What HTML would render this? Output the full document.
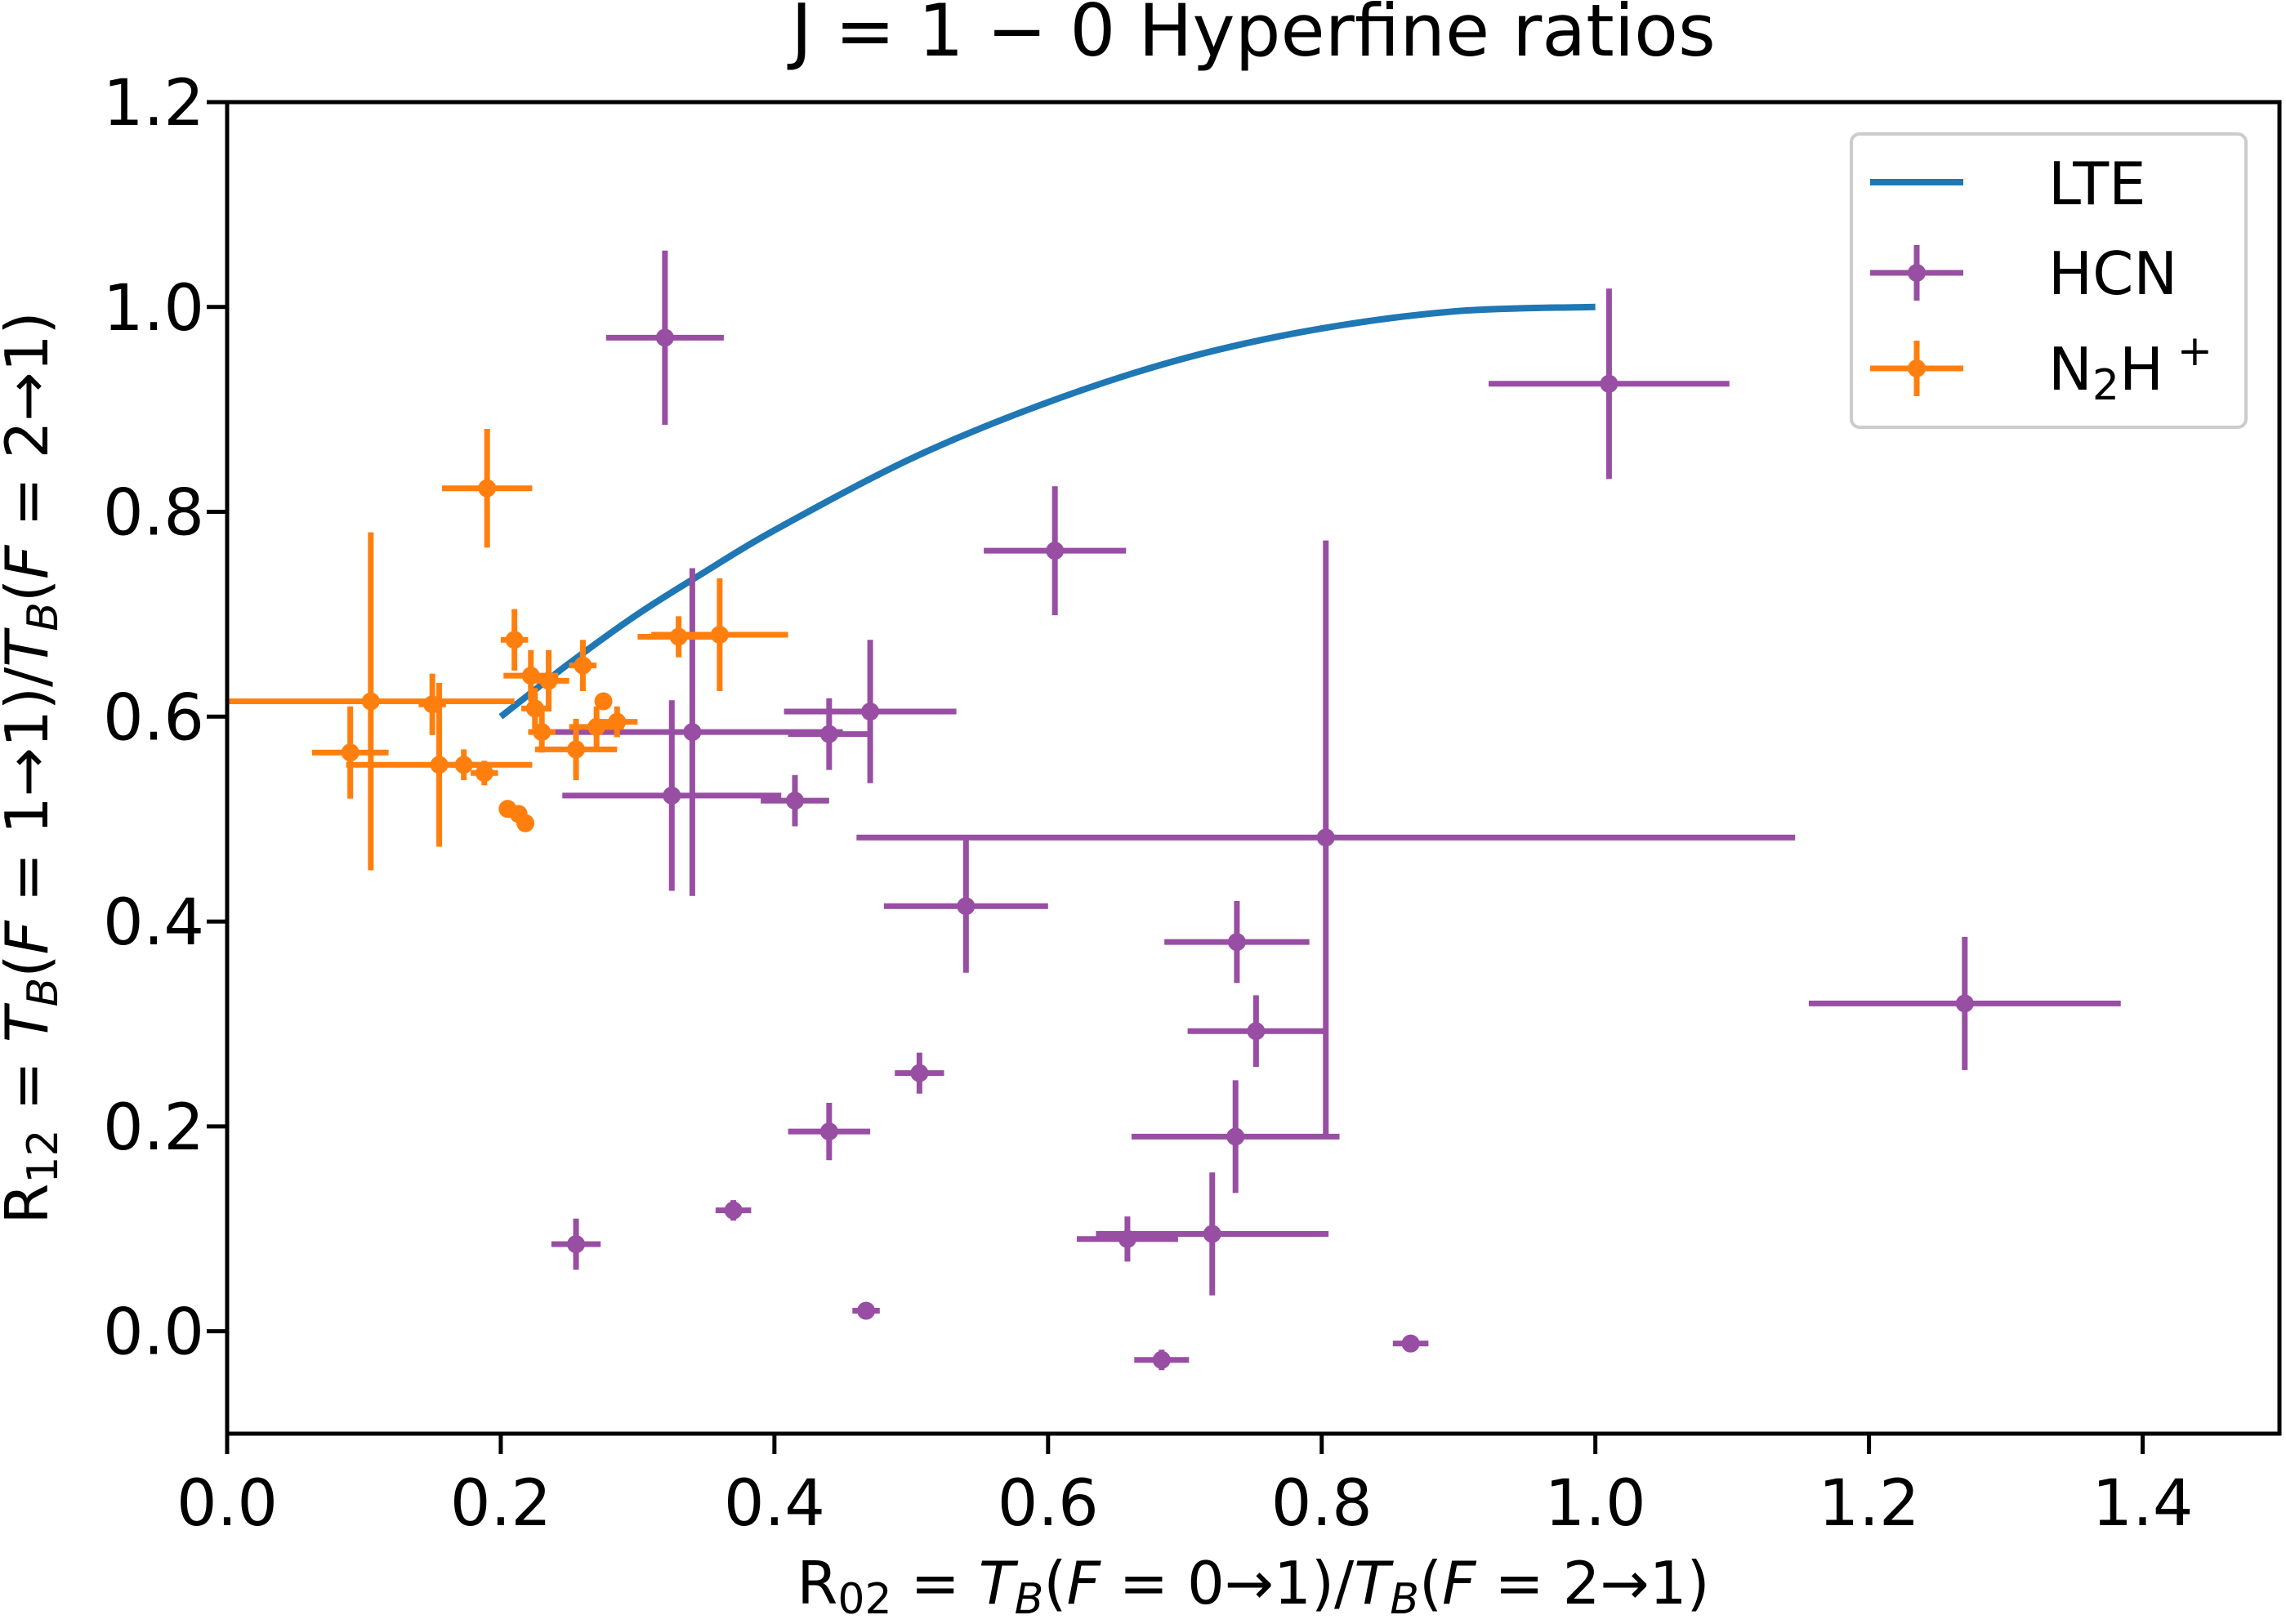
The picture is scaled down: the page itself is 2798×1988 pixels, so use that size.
<!DOCTYPE html>
<html><head><meta charset="utf-8"><style>
html,body{margin:0;padding:0;background:#fff;}
svg{display:block;font-family:"DejaVu Sans","Liberation Sans",sans-serif;}
</style></head><body>
<svg id="chart" width="2798" height="1988" viewBox="0 0 2798 1988" xmlns="http://www.w3.org/2000/svg">
<rect width="2798" height="1988" fill="#fff"/>
<text x="1534" y="68" font-size="88" text-anchor="middle">J = 1 − 0 Hyperfine ratios</text>
<g id="marks"></g>
<rect x="278" y="125" width="2512" height="1630" fill="none" stroke="#000" stroke-width="5"/>
<g id="ticks"></g>
<text x="1534" y="1963" font-size="72" text-anchor="middle">R<tspan font-size="52" dy="12">02</tspan><tspan dy="-12"> = </tspan><tspan font-style="italic">T</tspan><tspan font-size="52" dy="12" font-style="italic">B</tspan><tspan dy="-12">(</tspan><tspan font-style="italic">F</tspan> = 0→1)/<tspan font-style="italic">T</tspan><tspan font-size="52" dy="12" font-style="italic">B</tspan><tspan dy="-12">(</tspan><tspan font-style="italic">F</tspan> = 2→1)</text>
<text transform="translate(58,940) rotate(-90)" font-size="72" text-anchor="middle">R<tspan font-size="52" dy="12">12</tspan><tspan dy="-12"> = </tspan><tspan font-style="italic">T</tspan><tspan font-size="52" dy="12" font-style="italic">B</tspan><tspan dy="-12">(</tspan><tspan font-style="italic">F</tspan> = 1→1)/<tspan font-style="italic">T</tspan><tspan font-size="52" dy="12" font-style="italic">B</tspan><tspan dy="-12">(</tspan><tspan font-style="italic">F</tspan> = 2→1)</text>
<g>
<rect x="2266" y="164" width="483" height="359" rx="10" fill="#fff" stroke="#ccc" stroke-width="4"/>
<g><line x1="2289" y1="223" x2="2403" y2="223" stroke="#1f77b4" stroke-width="8"/><text x="2507" y="250" font-size="72">LTE</text></g>
<g><line x1="2289" y1="334" x2="2403" y2="334" stroke="#984ea3" stroke-width="7"/><line x1="2346" y1="300" x2="2346" y2="368" stroke="#984ea3" stroke-width="7"/><circle cx="2346" cy="334" r="11" fill="#984ea3"/><text x="2507" y="360" font-size="72">HCN</text></g>
<g><line x1="2289" y1="451" x2="2403" y2="451" stroke="#ff7f0e" stroke-width="7"/><line x1="2346" y1="417" x2="2346" y2="485" stroke="#ff7f0e" stroke-width="7"/><circle cx="2346" cy="451" r="11" fill="#ff7f0e"/><text x="2507" y="477" font-size="72">N<tspan font-size="52" dy="12">2</tspan><tspan dy="-12">H</tspan><tspan font-size="52" dy="-30"> +</tspan></text></g>
</g>
</svg>
<script>
const xTicks=[0,0.2,0.4,0.6,0.8,1.0,1.2,1.4];
const xTickLabels=["0.0","0.2","0.4","0.6","0.8","1.0","1.2","1.4"];
const yTicks=[0,0.2,0.4,0.6,0.8,1.0,1.2];
const yTickLabels=["0.0","0.2","0.4","0.6","0.8","1.0","1.2"];
const lteX=[0.2,0.25,0.3,0.35,0.4,0.5,0.6,0.7,0.8,0.9,1.0];
const lteY=[0.6,0.652,0.70,0.742,0.782,0.852,0.907,0.950,0.979,0.996,1.0];
const hcnX=[0.32,1.01,0.605,0.47,0.44,0.34,0.325,0.415,0.803,0.54,0.738,0.752,0.737,1.27,0.506,0.44,0.37,0.255,0.658,0.72,0.467,0.683,0.865];
const hcnY=[0.97,0.925,0.762,0.605,0.583,0.585,0.523,0.518,0.482,0.415,0.38,0.293,0.19,0.32,0.252,0.195,0.118,0.085,0.09,0.095,0.02,-0.028,-0.012];
const hcnXErr=[0.043,0.088,0.052,0.063,0.03,0.11,0.08,0.025,0.343,0.06,0.053,0.05,0.076,0.114,0.018,0.03,0.013,0.018,0.037,0.085,0.01,0.02,0.013];
const hcnYErr=[0.085,0.093,0.063,0.07,0.035,0.16,0.093,0.025,0.29,0.065,0.04,0.035,0.055,0.065,0.02,0.028,0.01,0.025,0.022,0.06,0.005,0.01,0.005];
const n2hX=[0.19,0.105,0.09,0.155,0.15,0.173,0.188,0.21,0.205,0.213,0.218,0.222,0.225,0.23,0.235,0.26,0.255,0.27,0.275,0.285,0.33,0.36];
const n2hY=[0.823,0.615,0.565,0.553,0.612,0.553,0.545,0.675,0.51,0.505,0.496,0.64,0.608,0.585,0.635,0.65,0.568,0.59,0.615,0.595,0.678,0.68];
const n2hXErr=[0.033,0.105,0.028,0.068,0.01,0.01,0.01,0.01,0.005,0.004,0,0.02,0.01,0.01,0.015,0.01,0.03,0.02,0.003,0.015,0.03,0.05];
const n2hYErr=[0.058,0.165,0.045,0.08,0.03,0.015,0.012,0.03,0.008,0.005,0,0.025,0.02,0.02,0.03,0.025,0.03,0.02,0.005,0.015,0.02,0.055];

const X0=278,X1=2790,Y0=125,Y1=1755,xmin=0,xmax=1.5,ymin=-0.1,ymax=1.2;
function sx(v){return X0+(v-xmin)/(xmax-xmin)*(X1-X0);}
function sy(v){return Y1-(v-ymin)/(ymax-ymin)*(Y1-Y0);}
const NS="http://www.w3.org/2000/svg";
function mk(tag,attrs,parent){const e=document.createElementNS(NS,tag);for(const k in attrs)e.setAttribute(k,attrs[k]);parent.appendChild(e);return e;}
const ticks=document.getElementById('ticks');
xTicks.forEach((t,i)=>{
  const l=mk('line',{x1:sx(t),x2:sx(t),y1:Y1,y2:Y1+25,stroke:'#000','stroke-width':5},ticks);
  
  
  const tx=mk('text',{x:sx(t),y:1867,'font-size':78,'text-anchor':'middle'},ticks);
  tx.textContent=xTickLabels[i];
  
  
});
yTicks.forEach((t,i)=>{
  const l=mk('line',{x1:X0-25,x2:X0,y1:sy(t),y2:sy(t),stroke:'#000','stroke-width':5},ticks);
  
  
  const tx=mk('text',{x:250,y:sy(t)+28,'font-size':78,'text-anchor':'end'},ticks);
  tx.textContent=yTickLabels[i];
  
  
});
const marks=document.getElementById('marks');
function series(xs,ys,xe,ye,color,name){
  const g=mk('g',{},marks);
  
  
  xs.forEach((x,i)=>{
    const p=mk('g',{},g);
    
    
    if(xe[i]>0) mk('line',{x1:sx(x-xe[i]),x2:sx(x+xe[i]),y1:sy(ys[i]),y2:sy(ys[i]),stroke:color,'stroke-width':7},p);
    if(ye[i]>0) mk('line',{x1:sx(x),x2:sx(x),y1:sy(ys[i]-ye[i]),y2:sy(ys[i]+ye[i]),stroke:color,'stroke-width':7},p);
    mk('circle',{cx:sx(x),cy:sy(ys[i]),r:11,fill:color},p);
  });
}
// smooth LTE curve (Catmull-Rom through read points)
const P=lteX.map((x,i)=>[sx(x),sy(lteY[i])]);
let d='M'+P[0][0]+','+P[0][1];
for(let i=0;i<P.length-1;i++){
  const p0=P[Math.max(0,i-1)],p1=P[i],p2=P[i+1],p3=P[Math.min(P.length-1,i+2)];
  const c1=[p1[0]+(p2[0]-p0[0])/6,p1[1]+(p2[1]-p0[1])/6];
  const c2=[p2[0]-(p3[0]-p1[0])/6,p2[1]-(p3[1]-p1[1])/6];
  d+=' C'+c1[0]+','+c1[1]+' '+c2[0]+','+c2[1]+' '+p2[0]+','+p2[1];
}
const lte=mk('path',{d:d,fill:'none',stroke:'#1f77b4','stroke-width':8,'stroke-linejoin':'round'},marks);


series(hcnX,hcnY,hcnXErr,hcnYErr,'#984ea3','hcn');
series(n2hX,n2hY,n2hXErr,n2hYErr,'#ff7f0e','n2h');
</script>
</body></html>
